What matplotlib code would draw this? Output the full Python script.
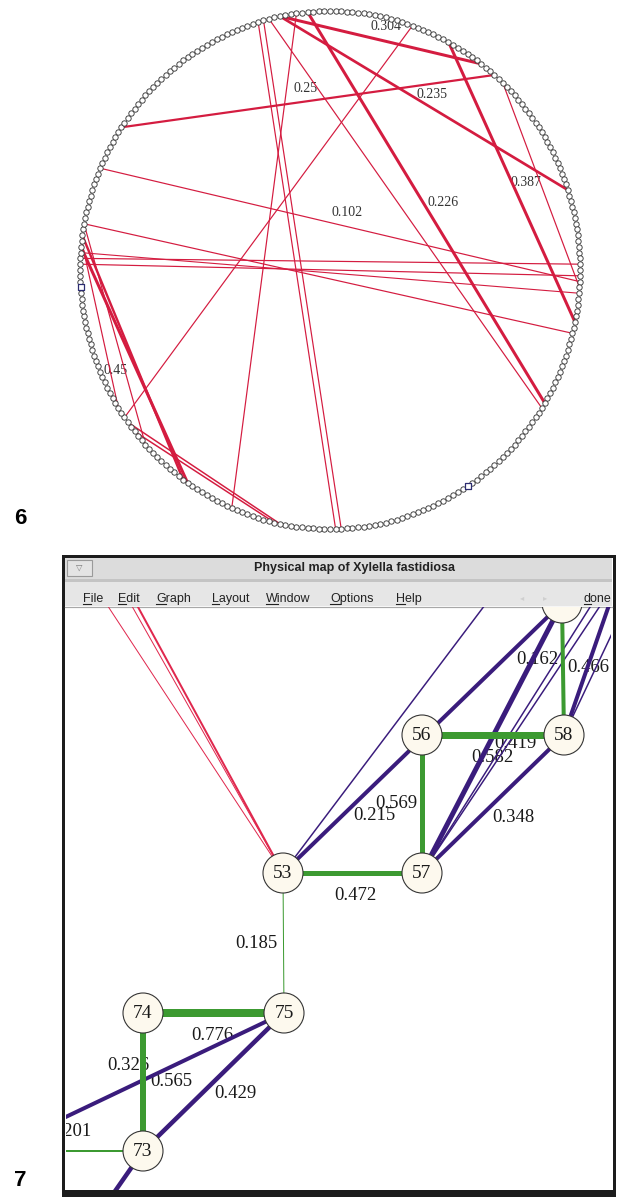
import matplotlib.pyplot as plt
import numpy as np
from matplotlib.patches import Circle, Rectangle

W, H = 629, 1199
PX = 0.72  # points per pixel at dpi 100

# ---------------- panel 6: ring of markers with chords ----------------
RING_SIZE = 280
RING_CX, RING_CY, RING_RX, RING_RY = 330, 270, 250, 259

# chord endpoints given as marker indices on the ring (0 = top, clockwise)
CHORD_FROM = [236, 228, 218, 212, 211, 213, 214, 216, 215, 218, 183, 182,
              180, 274, 267, 268, 271, 271, 276, 269, 22, 34]
CHORD_TO = [32, 72, 81, 69, 71, 74, 167, 168, 185, 177, 15, 149,
            150, 158, 139, 138, 29, 56, 94, 95, 79, 73]
CHORD_WIDTH = [2.2, 1.2, 1.2, 1.2, 1.2, 1.1, 3.0, 2.4, 1.2, 1.2, 1.2, 1.5,
               1.5, 1.2, 1.2, 1.2, 3.0, 2.7, 3.0, 1.2, 3.0, 1.2]
HIGHLIGHT_NODES = [207, 114]

RING_LABELS = ["0.304", "0.25", "0.235", "0.387", "0.102", "0.226", "0.45"]
RING_LABEL_X = [386, 306, 432, 526, 347, 443, 116]
RING_LABEL_Y = [27, 88, 95, 183, 212, 203, 371]

# ---------------- panel 7: physical map window ----------------
NODE_NAMES = ["53", "56", "57", "58", "59", "74", "75", "73"]
NODE_X = [283, 422, 422, 564, 562, 143, 284, 143]
NODE_Y = [873, 735, 873, 735, 603, 1013, 1013, 1151]
# nodes lying outside the visible window
HIDDEN_NAMES = ["r1", "r2", "r3", "u1", "u2", "u3", "u4", "u5", "w1", "w2", "w3"]
HIDDEN_X = [94, 126, 120, 500, 604, 616, 635, 614, 30, 30, 88]
HIDDEN_Y = [585, 585, 585, 585, 585, 585, 585, 585, 1134, 1151, 1230]

GREEN_EDGES = [("53", "57"), ("56", "57"), ("56", "58"), ("58", "59"),
               ("53", "75"), ("74", "75"), ("74", "73"), ("73", "w2")]
GREEN_WIDTH = [5, 5, 7, 4, 1, 8, 6, 2]
GREEN_LABELS = ["0.472", "0.569", "0.419", "0.162", "0.185", "0.776", "0.326", "0.201"]
GREEN_LABEL_X = [355, 396, 515, 537, 256, 212, 128, 70]
GREEN_LABEL_Y = [895, 804, 743, 659, 943, 1036, 1066, 1131]

PURPLE_EDGES = [("53", "59"), ("53", "u1"), ("57", "59"), ("57", "u2"),
                ("57", "58"), ("58", "u3"), ("58", "u4"), ("57", "u5"),
                ("75", "w1"), ("75", "73"), ("73", "w3")]
PURPLE_WIDTH = [4, 1.5, 5, 1.5, 4, 4, 1.5, 1.5, 4, 4.5, 4.5]
PURPLE_LABELS = ["0.215", "", "0.582", "", "0.348", "0.466", "", "", "0.565", "0.429", ""]
PURPLE_LABEL_X = [374, 0, 492, 0, 513, 588, 0, 0, 171, 235, 0]
PURPLE_LABEL_Y = [816, 0, 757, 0, 817, 667, 0, 0, 1081, 1094, 0]

RED_EDGES = [("53", "r1"), ("53", "r2"), ("53", "r3")]
RED_WIDTH = [1, 2, 1]

MENU_ITEMS = ["File", "Edit", "Graph", "Layout", "Window", "Options", "Help"]
MENU_X = [83, 118, 156, 212, 266, 330, 396]

RED6 = "#d41c40"
RED7 = "#e0284e"
GREEN = "#3c9a31"
PURPLE = "#3a1c7c"

fig = plt.figure(figsize=(W / 100, H / 100), dpi=100)
fig.patch.set_facecolor("white")
ax = fig.add_axes([0, 0, 1, 1])
ax.set_xlim(0, W)
ax.set_ylim(H, 0)
ax.axis("off")

# ---- panel 6
theta = 2 * np.pi * np.arange(RING_SIZE) / RING_SIZE
ring_x = RING_CX + RING_RX * np.sin(theta)
ring_y = RING_CY - RING_RY * np.cos(theta)

for a, b, w in zip(CHORD_FROM, CHORD_TO, CHORD_WIDTH):
    ax.plot([ring_x[a], ring_x[b]], [ring_y[a], ring_y[b]], color=RED6,
            lw=w * PX, solid_capstyle="butt", zorder=2)

ax.scatter(ring_x, ring_y, s=15, facecolor="white", edgecolor="#3a3a3a",
           linewidths=0.65, zorder=3)
ax.scatter(ring_x[HIGHLIGHT_NODES], ring_y[HIGHLIGHT_NODES], s=18, marker="s",
           facecolor="white", edgecolor="#2c2c70", linewidths=0.9, zorder=4)

for t, x, y in zip(RING_LABELS, RING_LABEL_X, RING_LABEL_Y):
    ax.text(x, y, t, fontsize=10, family="Liberation Serif", color="#333333",
            ha="center", va="center", zorder=1)

ax.text(20, 519, "6", fontsize=16, fontweight="bold", family="Liberation Sans",
        ha="center", va="center")
ax.text(20, 1180, "7", fontsize=16, fontweight="bold", family="Liberation Sans",
        ha="center", va="center")

# ---- panel 7: window chrome
ax.add_patch(Rectangle((63, 556), 551, 639, facecolor="white", edgecolor="#1c1c1c",
                       lw=3 * PX, zorder=1))
ax.add_patch(Rectangle((64, 1190), 549, 7, facecolor="#1c1c1c", edgecolor="none", zorder=2))
ax.add_patch(Rectangle((65, 558), 547, 21, facecolor="#dcdcdc", edgecolor="none", zorder=2))
ax.add_patch(Rectangle((67, 560), 25, 16, facecolor="#e4e4e4", edgecolor="#9a9a9a",
                       lw=0.8, zorder=3))
ax.text(79, 567, "\u25bd", fontsize=6, color="#777777", ha="center", va="center", zorder=4)
ax.text(354, 568, "Physical map of Xylella fastidiosa", fontsize=9, fontweight="bold",
        family="Liberation Sans", color="#222222", ha="center", va="center", zorder=4)
ax.add_patch(Rectangle((65, 579), 547, 3, facecolor="#c4c4c4", edgecolor="none", zorder=2))
ax.add_patch(Rectangle((65, 582), 547, 24, facecolor="#e6e6e6", edgecolor="none", zorder=2))
ax.plot([65, 612], [606.5, 606.5], color="#a8a8a8", lw=1.2 * PX, zorder=3)

fig.canvas.draw()
renderer = fig.canvas.get_renderer()
inv = ax.transData.inverted()
menu_style = dict(fontsize=9, family="Liberation Sans", color="#222222", va="baseline", zorder=4)
for item, x in zip(MENU_ITEMS + ["done"], MENU_X + [584]):
    ax.text(x, 602, item, **menu_style)
    first = ax.text(x, 602, item[0], alpha=0, **menu_style)
    bb = first.get_window_extent(renderer)
    (x0, _), (x1, _) = inv.transform([(bb.x0, bb.y0), (bb.x1, bb.y0)])
    ax.plot([x0, x1], [604, 604], color="#222222", lw=0.8, zorder=4)
ax.text(522, 598, "\u25c2", fontsize=6, color="#cfcfcf", ha="center", va="center", zorder=4)
ax.text(545, 598, "\u25b8", fontsize=6, color="#cfcfcf", ha="center", va="center", zorder=4)

# ---- panel 7: canvas with graph
cx0, cx1, cy0, cy1 = 66, 611, 607, 1190
gx = fig.add_axes([cx0 / W, (H - cy1) / H, (cx1 - cx0) / W, (cy1 - cy0) / H])
gx.set_xlim(cx0, cx1)
gx.set_ylim(cy1, cy0)
gx.axis("off")

pos = {n: (x, y) for n, x, y in zip(NODE_NAMES, NODE_X, NODE_Y)}
pos.update({n: (x, y) for n, x, y in zip(HIDDEN_NAMES, HIDDEN_X, HIDDEN_Y)})


def draw_edges(edges, widths, color):
    for (a, b), w in zip(edges, widths):
        gx.plot([pos[a][0], pos[b][0]], [pos[a][1], pos[b][1]], color=color,
                lw=w * PX, solid_capstyle="butt", zorder=2)


draw_edges(RED_EDGES, RED_WIDTH, RED7)
draw_edges(PURPLE_EDGES, PURPLE_WIDTH, PURPLE)
draw_edges(GREEN_EDGES, GREEN_WIDTH, GREEN)

for labels, lx, ly in [(GREEN_LABELS, GREEN_LABEL_X, GREEN_LABEL_Y),
                       (PURPLE_LABELS, PURPLE_LABEL_X, PURPLE_LABEL_Y)]:
    for t, x, y in zip(labels, lx, ly):
        if t:
            gx.text(x, y, t, fontsize=13.5, family="Liberation Serif", color="#1a1a1a",
                    ha="center", va="center", zorder=1, clip_on=True)

for n, x, y in zip(NODE_NAMES, NODE_X, NODE_Y):
    gx.add_patch(Circle((x, y), 20, facecolor="#fdf9ee", edgecolor="#333333",
                        lw=1.1 * PX, zorder=3))
    if n != "59":
        gx.text(x, y + 1, n, fontsize=14, family="Liberation Serif", color="#1a1a1a",
                ha="center", va="center", zorder=4)

fig.savefig("out.png", dpi=100, facecolor="white")
